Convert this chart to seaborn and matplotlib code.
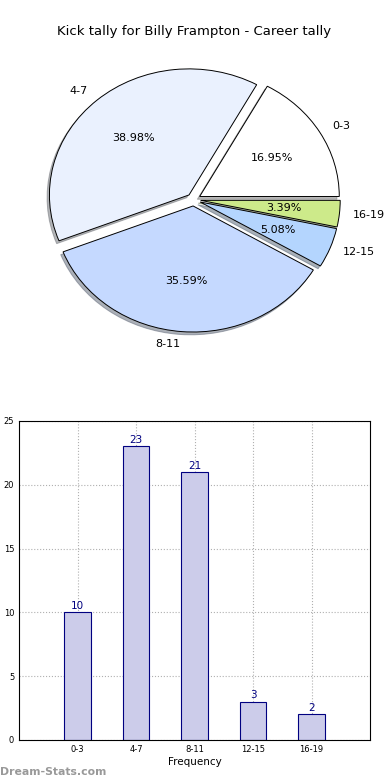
import matplotlib
matplotlib.use("Agg")
import matplotlib.pyplot as plt
import seaborn as sns
import pandas as pd

# Kick tally data (career)
categories = ["0-3", "4-7", "8-11", "12-15", "16-19"]
counts = [10, 23, 21, 3, 2]
pie_colors = ["#ffffff", "#eaf1fe", "#c5d9ff", "#b4d5fe", "#cdea8a"]

sns.set_style("white")
plt.rcParams['font.family'] = ['DejaVu Sans']
plt.rcParams['text.color'] = 'black'
plt.rcParams['axes.labelcolor'] = 'black'
plt.rcParams['xtick.color'] = 'black'
plt.rcParams['ytick.color'] = 'black'

fig = plt.figure(figsize=(3.9, 7.8), dpi=100)

# Pie chart (top)
ax_pie = fig.add_axes([0.049, 0.542, 0.895, 0.404])
ax_pie.pie(counts, labels=categories, colors=pie_colors, explode=[0.05] * 5,
           autopct='%1.2f%%', startangle=0,
           shadow={'ox': -0.012, 'oy': -0.016, 'shade': 0.55},
           wedgeprops={'edgecolor': 'black', 'linewidth': 0.7},
           textprops={'fontsize': 8, 'color': 'black'})
ax_pie.set_aspect('auto')
ax_pie.set_xlim(-1.25, 1.25)
ax_pie.set_ylim(-1.25, 1.25)
ax_pie.set_title("Kick tally for Billy Frampton - Career tally", fontsize=9.5,
                 pad=5, color='black')

# Bar chart (bottom)
df = pd.DataFrame({'Tally': categories, 'Count': counts})
ax_bar = fig.add_axes([0.049, 0.0513, 0.9, 0.409])
sns.barplot(data=df, x='Tally', y='Count', color='#ccccea', edgecolor='navy',
            linewidth=0.8, width=0.45, saturation=1, ax=ax_bar)
ax_bar.bar_label(ax_bar.containers[0], color='navy', fontsize=7.5, padding=1)
ax_bar.set_xlim(-1, 5)
ax_bar.set_ylim(0, 25)
ax_bar.set_yticks([0, 5, 10, 15, 20, 25])
ax_bar.grid(True, linestyle=':', color='#b0b0b0', linewidth=0.8)
ax_bar.set_axisbelow(True)
ax_bar.tick_params(axis='both', labelsize=6, length=2, direction='in')
ax_bar.set_xlabel("Frequency", fontsize=7.5, labelpad=2)
ax_bar.set_ylabel("Number of Games", fontsize=7.5)
for spine in ax_bar.spines.values():
    spine.set_color('black')
    spine.set_linewidth(0.8)

fig.text(0.0, 0.004, "Dream-Stats.com", color='#999999', fontsize=7.8,
         fontweight='bold', ha='left', va='bottom')

fig.savefig("out.png", dpi=100)
